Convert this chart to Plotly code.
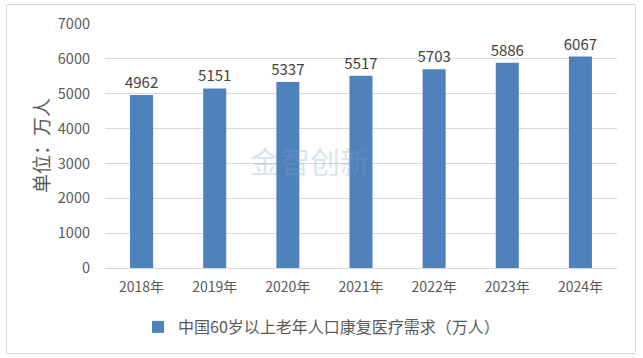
import plotly.graph_objects as go

categories = ["2018年", "2019年", "2020年", "2021年", "2022年", "2023年", "2024年"]
values = [4962, 5151, 5337, 5517, 5703, 5886, 6067]
series_name = "中国60岁以上老年人口康复医疗需求（万人）"
y_title = "单位：万人"
y_ticks = [0, 1000, 2000, 3000, 4000, 5000, 6000, 7000]

FONT = "Noto Sans CJK SC"
W, H = 643, 358
L, R, T, B = 105, 26, 24, 90
pw, ph = W - L - R, H - T - B

def px_x(p):
    return (p - L) / pw

def px_y(p):
    return (H - B - p) / ph

fig = go.Figure()
fig.add_trace(go.Bar(
    x=categories, y=values, name=series_name,
    width=0.315,
    marker=dict(color="#4f81bd", line=dict(width=0)),
    text=[str(v) for v in values], textposition="outside", constraintext="none",
    textfont=dict(family=FONT, size=15, color="#404040"),
    cliponaxis=False,
))

fig.update_layout(
    width=W, height=H,
    margin=dict(l=L, r=R, t=T, b=B, autoexpand=False),
    paper_bgcolor="white", plot_bgcolor="white",
    showlegend=True,
    legend=dict(orientation="h", xref="container", yref="container",
                x=0.5, xanchor="center", y=1 - 327 / H, yanchor="middle",
                itemwidth=30,
                font=dict(family=FONT, size=16, color="#595959")),
    xaxis=dict(showline=True, linecolor="#d9d9d9", linewidth=1, ticks="",
               tickfont=dict(family=FONT, size=14, color="#595959"), ticklabelstandoff=6),
    yaxis=dict(range=[0, 7000], tickvals=y_ticks, showgrid=True, gridcolor="#d9d9d9",
               gridwidth=1, zeroline=False, showline=False, ticks="",
               tickfont=dict(family=FONT, size=14.5, color="#595959"), ticklabelstandoff=14),
    shapes=[dict(type="rect", xref="paper", yref="paper",
                 x0=px_x(6.5), x1=px_x(635.5), y0=px_y(353.5), y1=px_y(4.5),
                 line=dict(color="#d9d9d9", width=1), fillcolor="rgba(0,0,0,0)", layer="below")],
    annotations=[
        dict(text=y_title, xref="paper", yref="paper", x=px_x(40), y=px_y(146),
             textangle=-90, showarrow=False, xanchor="center", yanchor="middle",
             font=dict(family=FONT, size=19, color="#595959")),
        dict(text="金智创新", xref="paper", yref="paper", x=px_x(310), y=px_y(160),
             showarrow=False, font=dict(family=FONT, size=30, color="rgba(120,160,200,0.3)")),
    ],
)

fig.write_html("out.html", config={"displayModeBar": False},
               post_script="document.body.style.margin='0';document.body.style.overflow='hidden';")
